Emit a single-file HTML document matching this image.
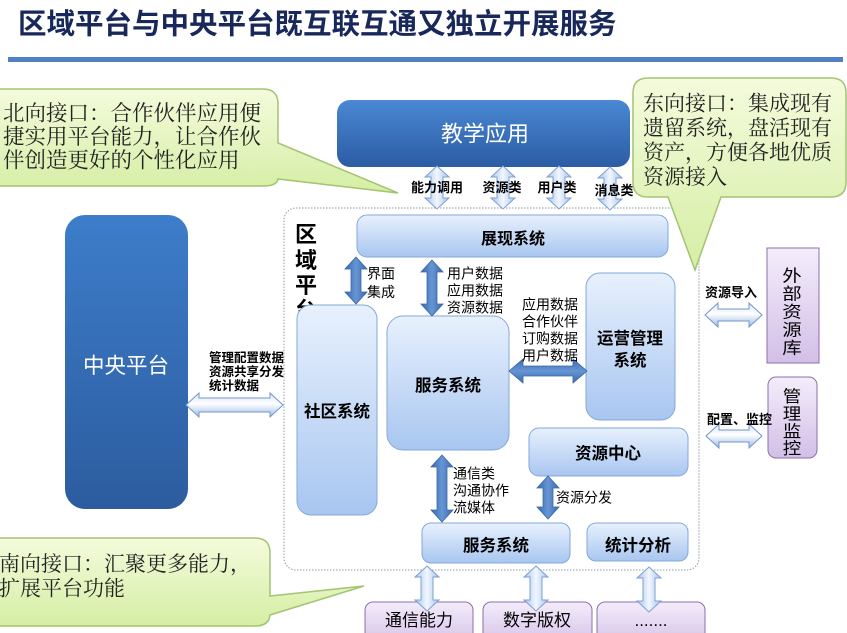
<!DOCTYPE html>
<html><head><meta charset="utf-8">
<style>
html,body{margin:0;padding:0;background:#fff;}
body{width:847px;height:633px;overflow:hidden;position:relative;}
svg{position:absolute;left:0;top:0;}
.s{font-family:"Liberation Sans","Noto Sans CJK SC",sans-serif;}
.sf{font-family:"Liberation Serif","Noto Serif CJK SC","Noto Serif CJK JP","Noto Serif CJK TC","AR PL UMing CN",serif;}
</style></head>
<body>
<svg width="847" height="633" viewBox="0 0 847 633" xmlns="http://www.w3.org/2000/svg">
<defs>
  <linearGradient id="gL" x1="0" y1="0" x2="0" y2="1">
    <stop offset="0" stop-color="#e8f1fd"/><stop offset="1" stop-color="#a8c6f0"/>
  </linearGradient>
  <linearGradient id="gD" x1="0" y1="0" x2="0" y2="1">
    <stop offset="0" stop-color="#4a88d3"/><stop offset="1" stop-color="#2b5ca4"/>
  </linearGradient>
  <linearGradient id="gC" x1="0" y1="0" x2="0" y2="1">
    <stop offset="0" stop-color="#3d7dca"/><stop offset="1" stop-color="#2c5c9f"/>
  </linearGradient>
  <linearGradient id="gP" x1="0" y1="0" x2="0" y2="1">
    <stop offset="0" stop-color="#f4edfb"/><stop offset="1" stop-color="#d3bfe7"/>
  </linearGradient>
  <linearGradient id="gCo" x1="0" y1="0" x2="0" y2="1">
    <stop offset="0" stop-color="#f4fbdc"/><stop offset="1" stop-color="#d5eea4"/>
  </linearGradient>
  <linearGradient id="gAV" x1="0" y1="0" x2="1" y2="0">
    <stop offset="0" stop-color="#a6c3ed"/><stop offset="0.5" stop-color="#f2f7fe"/><stop offset="1" stop-color="#a6c3ed"/>
  </linearGradient>
  <linearGradient id="gAH" x1="0" y1="0" x2="0" y2="1">
    <stop offset="0" stop-color="#d6e5f9"/><stop offset="0.45" stop-color="#ffffff"/><stop offset="1" stop-color="#9dbbe7"/>
  </linearGradient>
  <linearGradient id="gDV" x1="0" y1="0" x2="1" y2="0">
    <stop offset="0" stop-color="#3c6cb1"/><stop offset="0.5" stop-color="#6595d3"/><stop offset="1" stop-color="#3c6cb1"/>
  </linearGradient>
  <linearGradient id="gDH" x1="0" y1="0" x2="0" y2="1">
    <stop offset="0" stop-color="#3c6cb1"/><stop offset="0.5" stop-color="#6595d3"/><stop offset="1" stop-color="#3c6cb1"/>
  </linearGradient>
</defs>

<!-- Title -->
<text class="s" x="18" y="33.3" font-size="28.5" font-weight="700" fill="#18285a">区域平台与中央平台既互联互通又独立开展服务</text>
<rect x="8" y="57" width="835" height="5" fill="#4f81c4"/>

<!-- Container -->
<rect x="284" y="208" width="415" height="362" rx="12" fill="#fff" stroke="#8d9aa8" stroke-width="1" stroke-dasharray="1.5 1.5"/>

<!-- 中央平台 -->
<rect x="65" y="215" width="123" height="294" rx="20" fill="url(#gC)"/>
<text class="s" x="126" y="373" font-size="21.5" fill="#fff" text-anchor="middle">中央平台</text>

<!-- 教学应用 -->
<rect x="337" y="100" width="293" height="67" rx="13" fill="url(#gD)"/>
<text class="s" x="485" y="141.4" font-size="22" fill="#fff" text-anchor="middle">教学应用</text>

<!-- top light arrows -->
<g fill="url(#gAV)" stroke="#7d9fd3" stroke-width="1">
<polygon points="437,166 449,177 443,177 443,198 449,198 437,209 425,198 431,198 431,177 425,177"/>
<polygon points="503,166 515,177 509,177 509,198 515,198 503,209 491,198 497,198 497,177 491,177"/>
<polygon points="559,166 571,177 565,177 565,198 571,198 559,209 547,198 553,198 553,177 547,177"/>
<polygon points="610,167 622,178 616,178 616,199 622,199 610,210 598,199 604,199 604,178 598,178"/>
</g>
<g class="s" font-size="13" font-weight="700" fill="#000" text-anchor="middle">
<text x="437" y="192">能力调用</text>
<text x="502" y="192">资源类</text>
<text x="557" y="192">用户类</text>
<text x="614" y="195">消息类</text>
</g>

<!-- 区域平台 vertical -->
<g class="s" font-size="22" font-weight="700" fill="#000" text-anchor="middle">
<text x="306" y="242">区</text>
<text x="306" y="268">域</text>
<text x="306" y="293">平</text>
<text x="306" y="318">台</text>
</g>

<!-- light boxes -->
<g fill="url(#gL)" stroke="#84a7db" stroke-width="1">
<rect x="357" y="215" width="311" height="42" rx="10"/>
<rect x="297" y="305" width="80" height="210" rx="14"/>
<rect x="387" y="316" width="122" height="134" rx="16"/>
<rect x="586" y="273" width="89" height="147" rx="14"/>
<rect x="529" y="428" width="159" height="48" rx="10"/>
<rect x="422" y="523" width="148" height="40" rx="9"/>
<rect x="587" y="523" width="101" height="38" rx="9"/>
</g>
<g class="s" font-weight="700" fill="#000" text-anchor="middle">
<text x="513" y="244" font-size="16">展现系统</text>
<text x="337" y="416.8" font-size="16.5">社区系统</text>
<text x="448" y="390.8" font-size="16.5">服务系统</text>
<text x="630" y="344" font-size="16.5">运营管理</text>
<text x="630" y="366" font-size="16.5">系统</text>
<text x="608" y="459" font-size="16.5">资源中心</text>
<text x="496" y="551" font-size="16.5">服务系统</text>
<text x="638" y="551" font-size="16.5">统计分析</text>
</g>

<!-- dark arrows -->
<g fill="url(#gDV)" stroke="#3a65a3" stroke-width="0.8">
<polygon points="356,257 367,269 361,269 361,292 367,292 356,304 345,292 351,292 351,269 345,269"/>
<polygon points="432,260 443,272 437,272 437,304 443,304 432,316 421,304 427,304 427,272 421,272"/>
<polygon points="442,455 453,467 447,467 447,510 453,510 442,522 431,510 437,510 437,467 431,467"/>
<polygon points="548,476 559,488 553,488 553,507 559,507 548,519 537,507 543,507 543,488 537,488"/>
</g>
<polygon fill="url(#gDH)" stroke="#3a65a3" stroke-width="0.8" points="509,371 523,359 523,366 573,366 573,359 587,371 573,383 573,376 523,376 523,383"/>

<!-- small labels -->
<g class="s" font-size="14" fill="#000">
<text x="367" y="278.3">界面</text>
<text x="367" y="296.8">集成</text>
<text x="447" y="278.3">用户数据</text>
<text x="447" y="295.3">应用数据</text>
<text x="447" y="312.3">资源数据</text>
<text x="522" y="309.3">应用数据</text>
<text x="522" y="326.3">合作伙伴</text>
<text x="522" y="343.3">订购数据</text>
<text x="522" y="360.3">用户数据</text>
<text x="453" y="478.3">通信类</text>
<text x="453" y="495.3">沟通协作</text>
<text x="453" y="512.3">流媒体</text>
<text x="556" y="502.3">资源分发</text>
</g>

<!-- 中央 arrow -->
<polygon fill="url(#gAH)" stroke="#7195cc" stroke-width="1" points="186,405 199,393 199,398 270,398 270,393 283,405 270,417 270,412 199,412 199,417"/>
<g class="s" font-size="12.5" font-weight="700" fill="#000">
<text x="209" y="361.8">管理配置数据</text>
<text x="209" y="375.8">资源共享分发</text>
<text x="209" y="389.8">统计数据</text>
</g>

<!-- right side -->
<g fill="url(#gP)" stroke="#8c6fab" stroke-width="1">
<rect x="767" y="248" width="52" height="115"/>
<rect x="768" y="377" width="49" height="81" rx="8"/>
</g>
<g class="s" font-size="16.5" fill="#000" text-anchor="middle">
<text transform="translate(792,281.5) scale(1.18,1)">外</text>
<text transform="translate(792,299.5) scale(1.18,1)">部</text>
<text transform="translate(792,317.5) scale(1.18,1)">资</text>
<text transform="translate(792,335.5) scale(1.18,1)">源</text>
<text transform="translate(792,353.5) scale(1.18,1)">库</text>
</g>
<g class="s" font-size="16.5" fill="#000" text-anchor="middle">
<text transform="translate(792,402) scale(1.12,1)">管</text>
<text transform="translate(792,419.5) scale(1.12,1)">理</text>
<text transform="translate(792,437) scale(1.12,1)">监</text>
<text transform="translate(792,454) scale(1.12,1)">控</text>
</g>
<g fill="url(#gAH)" stroke="#7195cc" stroke-width="1">
<polygon points="705,315 718,303 718,309 749,309 749,303 762,315 749,327 749,321 718,321 718,327"/>
<polygon points="706,436 719,424 719,430 749,430 749,424 762,436 749,448 749,442 719,442 719,448"/>
</g>
<g class="s" font-size="13" font-weight="700" fill="#000">
<text x="705" y="297">资源导入</text>
<text x="707" y="424">配置、监控</text>
</g>

<!-- bottom purple boxes -->
<g fill="url(#gP)" stroke="#8c6fab" stroke-width="1">
<rect x="365" y="602" width="108" height="45" rx="8"/>
<rect x="483" y="602" width="109" height="45" rx="8"/>
<rect x="597" y="602" width="108" height="45" rx="8"/>
</g>
<g class="s" font-size="17" fill="#000" text-anchor="middle">
<text x="419" y="626">通信能力</text>
<text x="537" y="626">数字版权</text>
<text x="651" y="626">.......</text>
</g>
<g fill="url(#gAV)" stroke="#7d9fd3" stroke-width="1">
<polygon points="427,566 439,577 433,577 433,600 439,600 427,611 415,600 421,600 421,577 415,577"/>
<polygon points="536,566 548,577 542,577 542,600 548,600 536,611 524,600 530,600 530,577 524,577"/>
<polygon points="649,567 661,578 655,578 655,601 661,601 649,612 637,601 643,601 643,578 637,578"/>
</g>

<!-- callouts -->
<path d="M -15,89 H 263 Q 278,89 278,104 V 143 L 398,193 L 278,179 Q 277,186 263,186 H -15 Z" fill="url(#gCo)" stroke="#a3c472" stroke-width="1.5"/>
<g class="sf" font-size="21.5" fill="#222">
<text x="3" y="120.7">北向接口：合作伙伴应用便</text>
<text x="3" y="144.2">捷实用平台能力，让合作伙</text>
<text x="3" y="167.7">伴创造更好的个性化应用</text>
</g>

<path d="M 648,78 H 831 Q 846,78 846,93 V 182 Q 846,197 831,197 H 721 L 695,270 L 668,197 H 648 Q 633,197 633,182 V 93 Q 633,78 648,78 Z" fill="url(#gCo)" stroke="#a3c472" stroke-width="1.5"/>
<g class="sf" font-size="21" fill="#222">
<text x="643" y="110.5">东向接口：集成现有</text>
<text x="643" y="135">遗留系统，盘活现有</text>
<text x="643" y="159.5">资产，方便各地优质</text>
<text x="643" y="184">资源接入</text>
</g>

<path d="M -15,538 H 255 Q 270,538 270,553 V 596 L 364,586 L 270,615 Q 269,626 255,626 H -15 Z" fill="url(#gCo)" stroke="#a3c472" stroke-width="1.5"/>
<g class="sf" font-size="21" fill="#222">
<text x="-1" y="571">南向接口：汇聚更多能力，</text>
<text x="-1" y="595.5">扩展平台功能</text>
</g>
</svg>
</body></html>
